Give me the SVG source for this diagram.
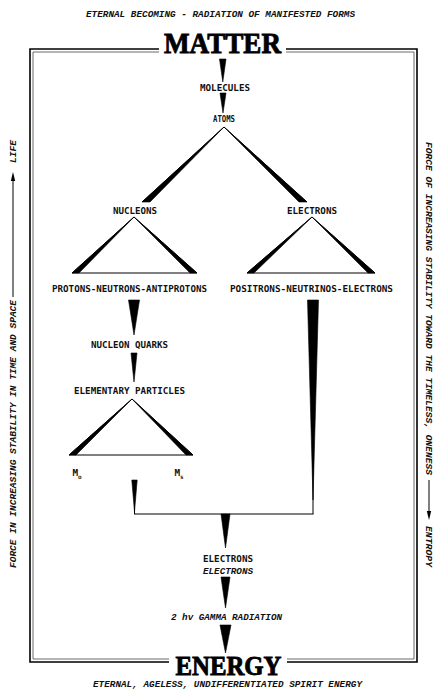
<svg xmlns="http://www.w3.org/2000/svg" width="441" height="692" viewBox="0 0 441 692">
<style>
.lbl{font-family:"DejaVu Sans Mono","Liberation Mono",monospace;font-weight:bold;font-size:9.3px;text-anchor:middle;fill:#111}
.it{font-family:"Liberation Mono",monospace;font-style:italic;font-weight:bold;font-size:9.3px;fill:#111}
.itc{text-anchor:middle}
.big{font-family:"Liberation Serif",serif;font-weight:bold;text-anchor:middle;fill:#000;stroke:#000;stroke-width:0.9}
.fo{fill:none;stroke:#000;stroke-width:1.6}
.fi{fill:none;stroke:#444;stroke-width:0.8}
.ln{fill:none;stroke:#000;stroke-width:1}
.w{fill:#000;stroke:#000;stroke-width:0.6;stroke-linejoin:round}
</style>
<rect width="441" height="692" fill="#fff"/>
<g id="frame">
<polyline class="fo" points="159,49 30,49 30,662 169,662"/>
<polyline class="fo" points="286,49 417,49 417,662 287,662"/>
<polyline class="fi" points="159,52 33,52 33,659 169,659"/>
<polyline class="fi" points="286,52 414,52 414,659 287,659"/>
</g>
<g id="title-top">
<text class="it itc" x="220.5" y="17" textLength="269" lengthAdjust="spacingAndGlyphs">ETERNAL BECOMING - RADIATION OF MANIFESTED FORMS</text>
</g>
<g id="matter"><text class="big" x="222.5" y="53" font-size="30" textLength="117" lengthAdjust="spacingAndGlyphs">MATTER</text></g>
<g id="energy"><text class="big" x="228.5" y="675" font-size="27" textLength="106" lengthAdjust="spacingAndGlyphs">ENERGY</text></g>
<g id="title-bottom">
<text class="it itc" x="227.5" y="687" textLength="269" lengthAdjust="spacingAndGlyphs">ETERNAL, AGELESS, UNDIFFERENTIATED SPIRIT ENERGY</text>
</g>
<g id="side-left">
<text class="it" transform="translate(16,568) rotate(-90)" textLength="268" lengthAdjust="spacingAndGlyphs">FORCE IN INCREASING STABILITY IN TIME AND SPACE</text>
<line class="ln" x1="13" y1="297" x2="13" y2="178"/>
<polygon points="13,172 10.8,181 15.2,181" fill="#000"/>
<text class="it" transform="translate(16,163) rotate(-90)" textLength="23" lengthAdjust="spacingAndGlyphs">LIFE</text>
</g>
<g id="side-right">
<text class="it" transform="translate(426,142) rotate(90)" textLength="333" lengthAdjust="spacingAndGlyphs">FORCE OF INCREASING STABILITY TOWARD THE TIMELESS, ONENESS</text>
<line class="ln" x1="429" y1="480" x2="429" y2="514"/>
<polygon points="429,520 426.8,511 431.2,511" fill="#000"/>
<text class="it" transform="translate(426,526) rotate(90)" textLength="41" lengthAdjust="spacingAndGlyphs">ENTROPY</text>
</g>
<g id="molecules"><text class="lbl" x="225" y="91" textLength="50" lengthAdjust="spacingAndGlyphs">MOLECULES</text></g>
<g id="atoms"><text class="lbl" x="224" y="122" textLength="22" lengthAdjust="spacingAndGlyphs">ATOMS</text></g>
<g id="nucleons"><text class="lbl" x="135" y="214" textLength="44" lengthAdjust="spacingAndGlyphs">NUCLEONS</text></g>
<g id="electrons-1"><text class="lbl" x="312" y="214" textLength="50" lengthAdjust="spacingAndGlyphs">ELECTRONS</text></g>
<g id="protons"><text class="lbl" x="129.5" y="292" textLength="155" lengthAdjust="spacingAndGlyphs">PROTONS-NEUTRONS-ANTIPROTONS</text></g>
<g id="positrons"><text class="lbl" x="311.5" y="292" textLength="163" lengthAdjust="spacingAndGlyphs">POSITRONS-NEUTRINOS-ELECTRONS</text></g>
<g id="quarks"><text class="lbl" x="129.5" y="348" textLength="77" lengthAdjust="spacingAndGlyphs">NUCLEON QUARKS</text></g>
<g id="elementary"><text class="lbl" x="129.5" y="393.5" textLength="111" lengthAdjust="spacingAndGlyphs">ELEMENTARY PARTICLES</text></g>
<g id="m-o"><text class="lbl" x="77" y="476" font-size="8">M<tspan font-size="6" dy="2.5">o</tspan></text></g>
<g id="m-s"><text class="lbl" x="179" y="476" font-size="8">M<tspan font-size="6" dy="2.5">s</tspan></text></g>
<g id="electrons-2">
<text class="lbl" x="228" y="562" textLength="50" lengthAdjust="spacingAndGlyphs">ELECTRONS</text>
<text class="it itc" x="228" y="573.5" textLength="50" lengthAdjust="spacingAndGlyphs">ELECTRONS</text>
</g>
<g id="gamma"><text class="it itc" x="226.5" y="619.5" textLength="111" lengthAdjust="spacingAndGlyphs">2 hv GAMMA RADIATION</text></g>
<g id="connectors">
<polygon class="w" points="219.5,59 226,59 222.8,82"/>
<polygon class="w" points="220,93 226,93 223,113"/>
<line class="ln" x1="224" y1="127" x2="142" y2="202"/>
<line class="ln" x1="224" y1="127" x2="307" y2="202"/>
<polygon class="w" points="224,127 142,202 150,202"/>
<polygon class="w" points="224,127 299,202 307,202"/>
<line class="ln" x1="134" y1="217" x2="72" y2="273"/>
<line class="ln" x1="134" y1="217" x2="197" y2="273"/>
<line class="ln" x1="72" y1="273" x2="197" y2="273"/>
<polygon class="w" points="134,217 72,273 79,273"/>
<polygon class="w" points="134,217 190,273 197,273"/>
<line class="ln" x1="312" y1="217" x2="247" y2="273"/>
<line class="ln" x1="312" y1="217" x2="375" y2="273"/>
<line class="ln" x1="247" y1="273" x2="375" y2="273"/>
<polygon class="w" points="312,217 247,273 254,273"/>
<polygon class="w" points="312,217 368,273 375,273"/>
<polygon class="w" points="128.5,300 139.5,300 134,335"/>
<polygon class="w" points="131,353 137,353 134,382"/>
<line class="ln" x1="132" y1="399" x2="69" y2="455"/>
<line class="ln" x1="132" y1="399" x2="193" y2="455"/>
<line class="ln" x1="69" y1="455" x2="193" y2="455"/>
<polygon class="w" points="132,399 69,455 76,455"/>
<polygon class="w" points="132,399 186,455 193,455"/>
<polygon class="w" points="307.5,300 318.5,300 313,500"/>
<line class="ln" x1="313" y1="300" x2="313" y2="514"/>
<polygon class="w" points="131.8,480 137.2,480 134.5,512"/>
<line class="ln" x1="134.5" y1="500" x2="134.5" y2="514"/>
<line class="ln" x1="134" y1="514" x2="313.5" y2="514"/>
<polygon class="w" points="221,514 230,514 225.5,548"/>
<polygon class="w" points="221,577 230,577 225.5,608"/>
<polygon class="w" points="220,625 231,625 225.5,653"/>
</g>
</svg>
